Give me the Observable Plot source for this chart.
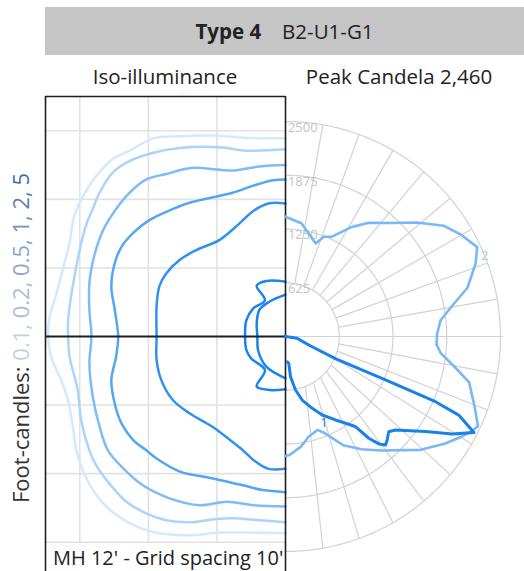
<!DOCTYPE html>
<html><head><meta charset="utf-8">
<script src="https://cdn.jsdelivr.net/npm/d3@7"></script>
<script src="https://cdn.jsdelivr.net/npm/@observablehq/plot@0.6"></script>
<style>
html,body{margin:0;padding:0;background:#fff;}
body{width:524px;height:571px;overflow:hidden;position:relative;font-family:"Open Sans",sans-serif;color:#222;}
#hdr{position:absolute;left:45px;top:7px;width:479px;height:48px;background:#c6c6c6;display:flex;align-items:center;justify-content:center;font-size:20.5px;color:#222;}
#hdr b{font-weight:700;margin-right:21px;}
.sub{position:absolute;top:64px;width:300px;text-align:center;font-size:20.5px;line-height:24px;color:#222;}
#ylab{position:absolute;left:20px;top:338px;transform:translate(-50%,-50%) rotate(-90deg);white-space:nowrap;font-size:22px;color:#333;z-index:3;}
#chart{position:absolute;left:0;top:96px;z-index:1;}
#mh{position:absolute;left:47px;top:543px;width:237px;height:30px;background:#fff;font-size:20px;line-height:30px;color:#222;padding-left:6px;box-sizing:border-box;z-index:2;white-space:nowrap;}
</style>
</head><body>
<div id="hdr"><b>Type 4</b><span>B2-U1-G1</span></div>
<div class="sub" style="left:15px">Iso-illuminance</div>
<div class="sub" style="left:249px">Peak Candela 2,460</div>
<div id="ylab"></div>
<div id="chart"></div>
<div id="mh">MH 12' - Grid spacing 10'</div>
<script>
// ---------- data ----------
const fcLevels = ["0.1", "0.2", "0.5", "1", "2", "5"];
const gridFeet = [-30, -20, -10, 10, 20, 30];
const gridFeetX = [-30, -20, -10];
const isoExtent = 35; // feet shown on each side

// iso-illuminance contours, [x ft, y ft]
const fc01 = [[0,28.9],[-5.7,29.0],[-10.6,29.3],[-15.6,29.2],[-19.3,28.9],[-22.7,27.1],[-25.2,25.9],[-27.6,23.4],[-29.5,20.5],[-30.8,17.6],[-31.5,13.6],[-32.5,9.7],[-33.4,6.3],[-34.4,2.9],[-34.6,0],[-34.2,-2.9],[-32.7,-6.4],[-31.7,-9.3],[-31.0,-13.2],[-30.5,-16.6],[-29.5,-19.7],[-27.6,-23.1],[-25.2,-25.6],[-22.2,-27.5],[-19.3,-28.5],[-14.5,-29.0],[-9.6,-28.6],[-5.7,-28.6],[0,-28.7]];
const fc02 = [[0,27.3],[-5.7,27.1],[-9.6,27.6],[-15.4,27.5],[-19.3,26.8],[-22.7,25.6],[-25.2,23.9],[-27.1,21.0],[-28.1,18.6],[-29.0,16.5],[-29.8,13.6],[-30.5,10.2],[-31.2,6.3],[-31.7,2.4],[-31.7,0],[-31.5,-2.9],[-30.3,-7.8],[-29.8,-12.2],[-28.6,-16.6],[-27.6,-18.8],[-25.9,-21.2],[-23.2,-24.1],[-20.3,-25.8],[-17.4,-26.8],[-14.0,-27.1],[-10.1,-26.6],[-7.6,-26.5],[-3.8,-26.8],[0,-27.1]];
const fc05 = [[0,25.0],[-3.8,24.8],[-7.6,24.2],[-9.6,24.3],[-13.5,24.6],[-17.4,23.7],[-20.3,22.9],[-22.7,21.0],[-24.7,18.6],[-26.6,15.5],[-27.8,12.1],[-28.6,7.8],[-28.6,3.9],[-28.3,0],[-28.6,-3.9],[-28.1,-8.8],[-27.1,-13.2],[-25.9,-16.6],[-23.7,-19.2],[-20.8,-21.7],[-16.9,-23.6],[-12.5,-24.6],[-8.6,-24.1],[-4.7,-24.6],[0,-24.8]];
const fc1 = [[0,22.9],[-1.8,22.8],[-4.7,22.0],[-7.6,21.0],[-10.6,20.3],[-14.0,19.5],[-16.4,18.6],[-19.8,17.0],[-22.2,15.1],[-23.9,13.1],[-24.9,10.7],[-25.4,7.3],[-24.9,3.9],[-24.4,0],[-24.7,-2.9],[-25.4,-6.4],[-24.9,-9.8],[-23.9,-12.7],[-22.2,-15.1],[-20.3,-16.6],[-18.8,-17.8],[-15.4,-19.7],[-10.6,-20.7],[-6.2,-21.7],[-3.3,-22.4],[0,-22.7]];
const fc2 = [[0,19.4],[-2.5,19.4],[-4.7,18.3],[-6.7,16.5],[-9.6,14.1],[-13.0,12.6],[-15.4,11.2],[-17.4,9.2],[-18.4,7.3],[-18.8,4.4],[-18.8,0],[-18.8,-3.4],[-18.1,-6.4],[-16.4,-9.3],[-14.0,-11.2],[-10.6,-13.2],[-8.1,-15.1],[-6.2,-16.6],[-4.7,-18.0],[-2.5,-19.3],[0,-19.3]];
const fc5outer = [[0,8.0],[-2.8,8.1],[-4.2,7.4],[-3.0,5.3],[-4.7,4.1],[-5.7,2.4],[-5.9,0],[-5.7,-2.0],[-5.0,-3.2],[-3.0,-4.9],[-4.2,-7.3],[-2.3,-7.8],[0,-7.7]];
const fc5inner = [[0,6.1],[-2.3,5.1],[-3.8,3.9],[-4.2,1.9],[-4.1,0],[-4.0,-2.0],[-2.8,-4.4],[0,-6.1]];

// polar candela, [angle deg from straight up, candela]
const candelaRings = [625, 1250, 1875, 2500];
const spokeAngles = [10, 20, 30, 40, 50, 60, 70, 80, 100, 110, 120, 130, 140, 150, 160, 170];
const curveLight = [[0,1393],[8,1330],[18,1138],[21,1243],[25,1281],[31,1484],[36,1633],[43,1804],[49,2020],[55,2245],[60,2363],[65,2460],[69,2368],[75,2191],[79,1995],[84,1813],[89,1764],[93,1758],[96,1813],[100,1988],[104,2200],[110,2337],[115,2470],[117,2428],[120,2345],[124,2231],[130,2051],[140,1730],[146,1582],[152,1432],[155,1310],[158,1210],[161,1148],[167,1196],[172,1293],[178,1379],[180,1390]];
const curveDark = [[90,0],[99,138],[110,288],[114,634],[113.5,1268],[113.5,1902],[114.4,2212],[117,2460],[120.3,2245],[124.2,1968],[130.4,1679],[132.7,1633],[135.5,1687],[137.3,1716],[139,1655],[140.7,1529],[142.2,1328],[144.2,1258],[149.1,1131],[154.9,1008],[159.6,891],[165.3,764],[169.4,633],[172.9,471],[173,314],[176,294]];
const curveLabels = [{a: 68, cd: 2500, text: "2", series: "light"}, {a: 156, cd: 1100, text: "1", series: "dark"}];

// ---------- styling / layout ----------
const fcColors = ["#d3e9fc", "#abd4fa", "#7dbcf6", "#55a6f1", "#3192ee", "#1a84ee"];
const labelColors = ["#c3d2e3", "#a8bed6", "#8ca7c7", "#7492b9", "#5c80ad", "#446c9e"];
const ringRadiusFt = 31.35;           // radius drawn for the 2500 cd ring
const K = ringRadiusFt / 2500;        // ft per candela
const fanOffsetCd = 169;              // lower spokes converge slightly right of centre

// y label
document.getElementById("ylab").innerHTML = "Foot-candles: " + fcLevels.map((l, i) =>
  `<span style="color:${labelColors[i]}">${l}${i < fcLevels.length - 1 ? "," : ""}</span>`).join(" ");

// ---------- tables ----------
const contourSets = [["0.1", fc01], ["0.2", fc02], ["0.5", fc05], ["1", fc1], ["2", fc2], ["5", fc5outer], ["5", fc5inner]];
const contourRows = contourSets.flatMap(([level, pts], k) => pts.map(([x, y]) => ({level, part: k, x, y})));

function P(a, cd) { const t = a * Math.PI / 180; return {x: cd * K * Math.sin(t), y: cd * K * Math.cos(t)}; }

const ringRows = candelaRings.flatMap(r => d3.range(0, 181, 1).map(a => ({ring: r, ...P(a, r)})));

const spokeRows = spokeAngles.map(a => {
  const t = a * Math.PI / 180;
  const O = [2500 * Math.sin(t), 2500 * Math.cos(t)];
  let I;
  if (a < 90) I = [625 * Math.sin(t), 625 * Math.cos(t)];
  else {
    const p = [fanOffsetCd, 0], d = [O[0] - p[0], O[1] - p[1]];
    const A = d[0]*d[0] + d[1]*d[1], B = 2*(p[0]*d[0] + p[1]*d[1]), C = p[0]*p[0] + p[1]*p[1] - 625*625;
    const s = (-B + Math.sqrt(B*B - 4*A*C)) / (2*A);
    I = [p[0] + s*d[0], p[1] + s*d[1]];
  }
  return {x1: I[0]*K, y1: I[1]*K, x2: O[0]*K, y2: O[1]*K};
});
const horizEnd = P(90, 2530);
const horizRow = [{x1: 0, y1: 0, x2: horizEnd.x, y2: horizEnd.y}];

const lightRows = curveLight.map(([a, cd]) => P(a, cd));
const darkRows = curveDark.map(([a, cd]) => P(a, cd));
const ringLabelRows = candelaRings.map(r => ({text: String(r), x: 0.35, y: r * K - 0.9}));
const curveLabelRows = curveLabels.map(l => ({...l, ...P(l.a, l.cd)}));

const chart = Plot.plot({
  width: 524, height: 480,
  marginLeft: 45, marginRight: 0, marginTop: 0, marginBottom: 0,
  x: {domain: [-isoExtent, 479 / (480 / (2 * isoExtent)) - isoExtent], axis: null},
  y: {domain: [-isoExtent, isoExtent], axis: null},
  color: {domain: fcLevels, range: fcColors},
  style: {background: "transparent", overflow: "visible"},
  marks: [
    // iso grid
    Plot.ruleX(gridFeetX, {y1: -isoExtent - 5, y2: isoExtent, stroke: "#e2e2e2", strokeWidth: 1.6}),
    Plot.ruleY(gridFeet, {x1: -isoExtent, x2: 0, stroke: "#e2e2e2", strokeWidth: 1.6}),
    // polar grid
    Plot.line(ringRows, {x: "x", y: "y", z: "ring", stroke: "#d2d2d2", strokeWidth: 1.2}),
    Plot.link(spokeRows, {x1: "x1", y1: "y1", x2: "x2", y2: "y2", stroke: "#d2d2d2", strokeWidth: 1.2}),
    Plot.link(horizRow, {x1: "x1", y1: "y1", x2: "x2", y2: "y2", stroke: "#d2d2d2", strokeWidth: 1.2}),
    Plot.text(ringLabelRows, {x: "x", y: "y", text: "text", textAnchor: "start", fill: "#c4c4c4", fontSize: 13, fontFamily: "Open Sans"}),
    // contours
    Plot.line(contourRows, {x: "x", y: "y", z: "part", stroke: "level", strokeWidth: 2.5, strokeLinejoin: "round", curve: "catmull-rom"}),
    // axis and frame
    Plot.ruleY([0], {x1: -isoExtent, x2: 0, stroke: "#1e1e1e", strokeWidth: 2}),
    Plot.ruleX([-isoExtent, 0], {y1: -isoExtent - 5, y2: isoExtent, stroke: "#1e1e1e", strokeWidth: 1.6}),
    Plot.ruleY([isoExtent], {x1: -isoExtent, x2: 0, stroke: "#1e1e1e", strokeWidth: 1.6}),
    // candela curves
    Plot.line(lightRows, {x: "x", y: "y", stroke: "#78b8f5", strokeWidth: 2.6, strokeLinejoin: "round"}),
    Plot.line(darkRows, {x: "x", y: "y", stroke: "#1a80ea", strokeWidth: 3, strokeLinejoin: "round"}),
    Plot.text(curveLabelRows, {x: "x", y: "y", text: "text", fill: d => d.series === "light" ? "#9ccbf7" : "#1a80ea", fontSize: 13, fontFamily: "Open Sans"})
  ]
});
document.getElementById("chart").appendChild(chart);
</script>
</body></html>
